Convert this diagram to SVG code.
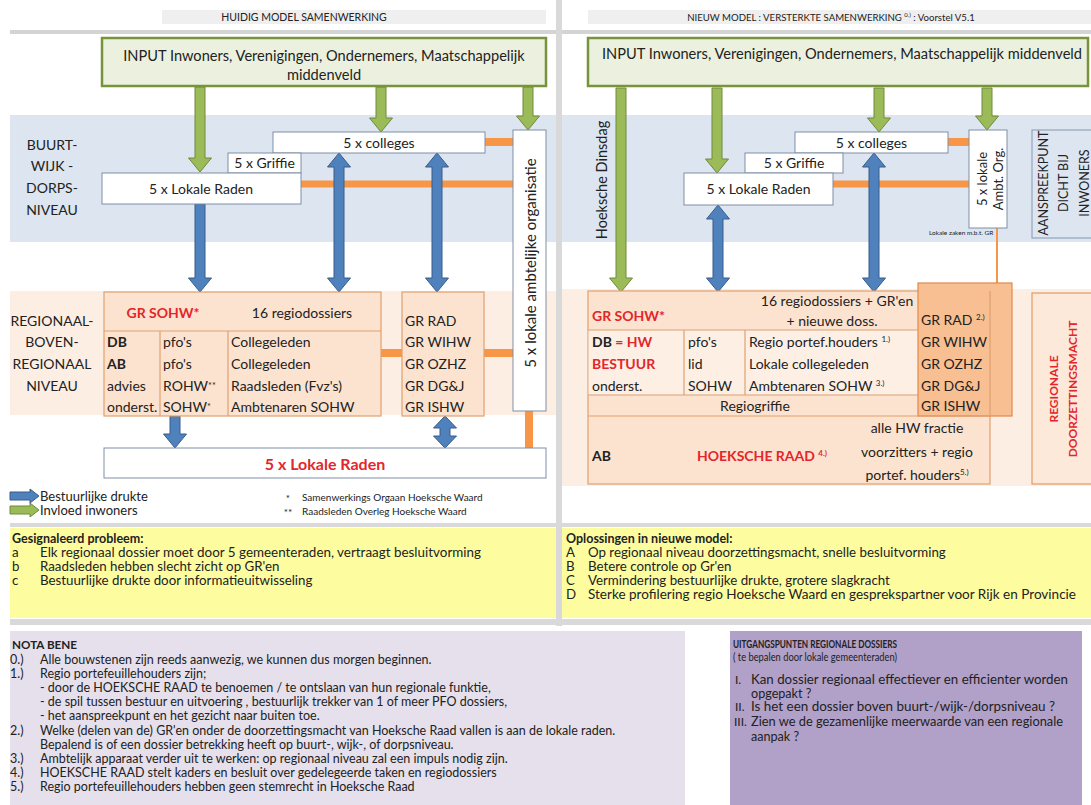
<svg xmlns="http://www.w3.org/2000/svg" width="1091" height="805" viewBox="0 0 1091 805">
<style>
text{font-family:Lato,"Open Sans","DejaVu Sans",sans-serif;fill:#222}
.f14{font-size:14px}.f13{font-size:13px}.f12{font-size:12.5px}.fy{font-size:13.3px}.fp{font-size:12.6px}.f10{font-size:10px}
.b{font-weight:bold}.red{fill:#e3262b}
.m{text-anchor:middle}
.rot{text-anchor:middle;dominant-baseline:central}
.wb{fill:#fff;stroke:#7f8fa6;stroke-width:1}
.pb{fill:#fce3cf;stroke:#e0a070;stroke-width:1.2}
.ln{stroke:#e0a070;stroke-width:1.2}
.or{fill:#f79646}
.ga{fill:#9bbb59;stroke:#71893f;stroke-width:1}
.ba{fill:#4f81bd;stroke:#385d8a;stroke-width:1}
.sup{font-size:8px}
</style>
<rect width="1091" height="805" fill="#fff"/>
<g id="background">
<rect x="162" y="10" width="384" height="14" fill="#efefef"/>
<rect x="588" y="10" width="503" height="14" fill="#efefef"/>
<rect x="10" y="30" width="546" height="4" fill="#d4d4d4"/>
<rect x="562" y="30" width="529" height="4" fill="#d4d4d4"/>
<rect x="10" y="115" width="546" height="127" fill="#dce5f0"/>
<rect x="562" y="115" width="529" height="127" fill="#dce5f0"/>
<rect x="10" y="291" width="546" height="124" fill="#fdeee4"/>
<rect x="562" y="289" width="529" height="197" fill="#fdeee4"/>
<rect x="10" y="523" width="546" height="4" fill="#d9d9d9"/>
<rect x="562" y="523" width="529" height="4" fill="#d9d9d9"/>
<rect x="10" y="528" width="546" height="90" fill="#fdfd9f"/>
<rect x="562" y="528" width="529" height="90" fill="#fdfd9f"/>
<rect x="10" y="619" width="1081" height="6" fill="#d9d9d9"/>
<rect x="556" y="0" width="6" height="626" fill="#d9d9d9"/>
<rect x="10" y="631" width="675" height="174" fill="#e5e0ec"/>
<rect x="730" y="631" width="352" height="174" fill="#b1a0c7"/>
</g>
<g id="headers">
<text x="304" y="21" class="m" font-size="10.5" fill="#404040">HUIDIG MODEL SAMENWERKING</text>
<text x="831" y="21" class="m" font-size="9.6">NIEUW MODEL : VERSTERKTE SAMENWERKING <tspan font-size="6" dy="-4">0.)</tspan><tspan dy="4"> : Voorstel V5.1</tspan></text>
</g>
<g id="levels">
<text x="52" y="150" class="f14 m">BUURT-</text>
<text x="52" y="171" class="f14 m">WIJK -</text>
<text x="52" y="193" class="f14 m">DORPS-</text>
<text x="52" y="215" class="f14 m">NIVEAU</text>
<text x="52" y="326" class="f14 m">REGIONAAL-</text>
<text x="52" y="347" class="f14 m">BOVEN-</text>
<text x="52" y="369" class="f14 m">REGIONAAL</text>
<text x="52" y="391" class="f14 m">NIVEAU</text>
</g>
<g id="connectors">
<rect class="or" x="485" y="138" width="28" height="8"/>
<rect class="or" x="301" y="180.5" width="212" height="7"/>
<rect class="or" x="381" y="349" width="21" height="8"/>
<rect class="or" x="484" y="349" width="29" height="8"/>
<rect class="or" x="525" y="410" width="8" height="38"/>
<rect class="or" x="948" y="138" width="21" height="8"/>
<rect class="or" x="833" y="180.5" width="136" height="7"/>
<line x1="997" y1="228" x2="997" y2="284" stroke="#f79646" stroke-width="2"/>
<polygon class="ga" points="195,87 205,87 205,158 211.5,158 200,172 188.5,158 195,158"/>
<polygon class="ga" points="376,87 386,87 386,118 392.5,118 381,132 369.5,118 376,118"/>
<polygon class="ga" points="523,87 533,87 533,116 539.5,116 528,130 516.5,116 523,116"/>
<polygon class="ga" points="616,88 626,88 626,278 632.5,278 621,292 609.5,278 616,278"/>
<polygon class="ga" points="712,88 722,88 722,159 728.5,159 717,173 705.5,159 712,159"/>
<polygon class="ga" points="874,88 884,88 884,118 890.5,118 879,132 867.5,118 874,118"/>
<polygon class="ga" points="982,88 992,88 992,116 998.5,116 987,130 975.5,116 982,116"/>
<polygon class="ba" points="195,204 205,204 205,278 211.5,278 200,292 188.5,278 195,278"/>
<polygon class="ba" points="339,153 350.5,167 344,167 344,278 350.5,278 339,292 327.5,278 334,278 334,167 327.5,167"/>
<polygon class="ba" points="437,153 448.5,167 442,167 442,278 448.5,278 437,292 425.5,278 432,278 432,167 425.5,167"/>
<polygon class="ba" points="170,416 180,416 180,434 186.5,434 175,448 163.5,434 170,434"/>
<polygon class="ba" points="445,416 456.5,428 450,428 450,436 456.5,436 445,448 433.5,436 440,436 440,428 433.5,428"/>
<polygon class="ba" points="718,205 729.5,219 723,219 723,278 729.5,278 718,292 706.5,278 713,278 713,219 706.5,219"/>
<polygon class="ba" points="874,153 885.5,167 879,167 879,278 885.5,278 874,292 862.5,278 869,278 869,167 862.5,167"/>
</g>
<g id="input-left">
<rect x="102" y="38" width="444" height="48" fill="#ebf1de" stroke="#77933c" stroke-width="2.5"/>
<text x="324" y="61" class="m" font-size="14.6">INPUT Inwoners, Verenigingen, Ondernemers, Maatschappelijk</text>
<text x="324" y="80" class="m" font-size="14.6">middenveld</text>
</g>
<g id="colleges-left"><rect class="wb" x="273" y="132" width="212" height="21"/><text x="379" y="148" class="f14 m">5 x colleges</text></g>
<g id="griffie-left"><rect class="wb" x="228" y="153" width="73" height="20"/><text x="264.5" y="168" class="f14 m">5 x Griffie</text></g>
<g id="raden-left"><rect class="wb" x="102" y="173" width="199" height="31"/><text x="201" y="193.5" class="f14 m">5 x Lokale Raden</text></g>
<g id="ambt-left"><rect class="wb" x="513" y="130" width="33" height="281"/><text class="rot" font-size="15" transform="translate(529.5,263) rotate(-90)">5 x lokale ambtelijke organisatie</text></g>
<g id="sohw-left">
<rect class="pb" x="104" y="292" width="277" height="124"/>
<line class="ln" x1="104" y1="331" x2="381" y2="331"/>
<line class="ln" x1="160" y1="331" x2="160" y2="416"/>
<line class="ln" x1="228" y1="331" x2="228" y2="416"/>
<text x="163" y="318" class="f14 m b red">GR SOHW*</text>
<text x="302" y="318" class="f14 m">16 regiodossiers</text>
<text x="107" y="347" class="f14 b">DB</text>
<text x="107" y="369" class="f14 b">AB</text>
<text x="107" y="391" class="f14">advies</text>
<text x="107" y="412" class="f14">onderst.</text>
<text x="163" y="347" class="f14">pfo's</text>
<text x="163" y="369" class="f14">pfo's</text>
<text x="163" y="391" class="f14">ROHW<tspan font-size="9" dy="-2">**</tspan></text>
<text x="163" y="412" class="f14">SOHW<tspan font-size="9" dy="-2">*</tspan></text>
<text x="231" y="347" class="f14">Collegeleden</text>
<text x="231" y="369" class="f14">Collegeleden</text>
<text x="231" y="391" class="f14">Raadsleden (Fvz's)</text>
<text x="231" y="412" class="f14">Ambtenaren SOHW</text>
</g>
<g id="gr-left">
<rect class="pb" x="402" y="292" width="82" height="124"/>
<text x="405" y="326" class="f14">GR RAD</text>
<text x="405" y="347" class="f14">GR WIHW</text>
<text x="405" y="369" class="f14">GR OZHZ</text>
<text x="405" y="391" class="f14">GR DG&amp;J</text>
<text x="405" y="412" class="f14">GR ISHW</text>
</g>
<g id="raden-bottom"><rect class="wb" x="104" y="448" width="442" height="30"/><text x="325" y="469.5" class="m b red" font-size="16">5 x Lokale Raden</text></g>
<g id="legend">
<polygon class="ba" points="10,492 30,492 30,489 39,496 30,503 30,500 10,500"/>
<polygon class="ga" points="10,506 30,506 30,503 39,510 30,517 30,514 10,514"/>
<text x="40" y="501" class="f13">Bestuurlijke drukte</text>
<text x="40" y="515" class="f13">Invloed inwoners</text>
<text x="288" y="502" class="f10 m">*</text>
<text x="288" y="516" class="f10 m">**</text>
<text x="302" y="501" class="f10">Samenwerkings Orgaan Hoeksche Waard</text>
<text x="302" y="515" class="f10">Raadsleden Overleg Hoeksche Waard</text>
</g>
<g id="problem">
<text x="12" y="543" class="f12 b">Gesignaleerd probleem:</text>
<text x="12" y="557" class="fy">a</text><text x="40" y="557" class="fy" textLength="441" lengthAdjust="spacingAndGlyphs">Elk regionaal dossier moet door 5 gemeenteraden, vertraagt besluitvorming</text>
<text x="12" y="571" class="fy">b</text><text x="40" y="571" class="fy">Raadsleden hebben slecht zicht op GR'en</text>
<text x="12" y="585" class="fy">c</text><text x="40" y="585" class="fy">Bestuurlijke drukte door informatieuitwisseling</text>
</g>
<g id="input-right">
<rect x="588" y="38" width="500" height="48" fill="#ebf1de" stroke="#77933c" stroke-width="2.5"/>
<text x="602" y="59" font-size="14.6" textLength="480" lengthAdjust="spacingAndGlyphs">INPUT Inwoners, Verenigingen, Ondernemers, Maatschappelijk middenveld</text>
</g>
<g id="dinsdag"><text class="rot" font-size="14.5" transform="translate(601,180) rotate(-90)">Hoeksche Dinsdag</text></g>
<g id="colleges-right"><rect class="wb" x="795" y="132" width="153" height="21"/><text x="871.5" y="148" class="f14 m">5 x colleges</text></g>
<g id="griffie-right"><rect class="wb" x="745" y="153" width="98" height="20"/><text x="794" y="168" class="f14 m">5 x Griffie</text></g>
<g id="raden-right"><rect class="wb" x="684" y="173" width="149" height="32"/><text x="758.5" y="194" class="f14 m">5 x Lokale Raden</text></g>
<g id="ambt-right">
<rect class="wb" x="969" y="130" width="38" height="98"/>
<text class="rot" font-size="13" transform="translate(982,179) rotate(-90)">5 x lokale</text>
<text class="rot" font-size="13" transform="translate(998,179) rotate(-90)">Ambt. Org.</text>
<text x="929" y="235" font-size="6.5">Lokale zaken m.b.t.  GR</text>
</g>
<g id="aanspreekpunt">
<rect x="1032" y="130" width="70" height="108" fill="#dce5f0" stroke="#8397b4" stroke-width="1"/>
<text class="rot" font-size="12.5" transform="translate(1043,183) rotate(-90)">AANSPREEKPUNT</text>
<text class="rot" font-size="12.5" transform="translate(1063,183) rotate(-90)">DICHT BIJ</text>
<text class="rot" font-size="12.5" transform="translate(1084,183) rotate(-90)">INWONERS</text>
</g>
<g id="sohw-right">
<rect class="pb" x="588" y="291" width="402" height="193" fill="#fce1cb"/>
<rect x="588.6" y="330" width="329.4" height="65" fill="#fdefe4"/>
<rect x="918" y="283" width="94" height="133" fill="#f8bf92" stroke="#e08a4a" stroke-width="1.2"/>
<line class="ln" x1="990" y1="291" x2="990" y2="416"/>
<line class="ln" x1="588" y1="330" x2="918" y2="330"/>
<line class="ln" x1="588" y1="395" x2="918" y2="395"/>
<line class="ln" x1="588" y1="416" x2="990" y2="416"/>
<line class="ln" x1="684" y1="330" x2="684" y2="395"/>
<line class="ln" x1="745" y1="330" x2="745" y2="395"/>
<text x="592" y="321" class="f14 b red">GR SOHW*</text>
<text x="837" y="306" class="f14 m">16 regiodossiers + GR'en</text>
<text x="832" y="326" class="f14 m">+ nieuwe doss.</text>
<text x="592" y="347" class="f14 b">DB<tspan class="red"> = HW</tspan></text>
<text x="592" y="369" class="f14 b red">BESTUUR</text>
<text x="592" y="391" class="f14">onderst.</text>
<text x="688" y="347" class="f14">pfo's</text>
<text x="688" y="369" class="f14">lid</text>
<text x="688" y="391" class="f14">SOHW</text>
<text x="749" y="347" class="f14">Regio portef.houders <tspan class="sup" dy="-5">1.)</tspan></text>
<text x="749" y="369" class="f14">Lokale collegeleden</text>
<text x="749" y="391" class="f14">Ambtenaren SOHW <tspan class="sup" dy="-5">3.)</tspan></text>
<text x="755" y="411" class="f14 m">Regiogriffie</text>
<text x="921" y="325" class="f14">GR RAD <tspan class="sup" dy="-5">2.)</tspan></text>
<text x="921" y="347" class="f14">GR WIHW</text>
<text x="921" y="369" class="f14">GR OZHZ</text>
<text x="921" y="391" class="f14">GR DG&amp;J</text>
<text x="921" y="411" class="f14">GR ISHW</text>
<text x="592" y="461" class="f14 b">AB</text>
<text x="762" y="461" class="f14 m b red">HOEKSCHE RAAD <tspan class="sup" dy="-5">4.)</tspan></text>
<text x="917" y="433" class="f14 m">alle HW fractie</text>
<text x="917" y="457" class="f14 m">voorzitters + regio</text>
<text x="917" y="480" class="f14 m">portef. houders<tspan class="sup" dy="-5">5.)</tspan></text>
</g>
<g id="doorzettingsmacht">
<rect x="1032" y="293" width="70" height="191" fill="#fde9d9" stroke="#e59a5f" stroke-width="1.2"/>
<text class="rot b red" font-size="12" transform="translate(1053,389) rotate(-90)">REGIONALE</text>
<text class="rot b red" font-size="12" transform="translate(1072,389) rotate(-90)">DOORZETTINGSMACHT</text>
</g>
<g id="solutions">
<text x="566" y="543" class="f12 b">Oplossingen in nieuwe model:</text>
<text x="566" y="557" class="fy">A</text><text x="588" y="557" class="fy">Op regionaal niveau doorzettingsmacht, snelle besluitvorming</text>
<text x="566" y="571" class="fy">B</text><text x="588" y="571" class="fy">Betere controle op Gr'en</text>
<text x="566" y="585" class="fy">C</text><text x="588" y="585" class="fy">Vermindering bestuurlijke drukte, grotere slagkracht</text>
<text x="566" y="599" class="fy">D</text><text x="588" y="599" class="fy" textLength="488" lengthAdjust="spacingAndGlyphs">Sterke profilering regio Hoeksche Waard en gesprekspartner voor Rijk en Provincie</text>
</g>
<g id="nota-bene">
<text x="12" y="649" class="b" font-size="12" textLength="65" lengthAdjust="spacingAndGlyphs">NOTA BENE</text>
<text x="10" y="664" class="f12">0.)</text><text x="40" y="664" class="f12">Alle bouwstenen zijn reeds aanwezig, we kunnen dus morgen beginnen.</text>
<text x="10" y="678" class="f12">1.)</text><text x="40" y="678" class="f12">Regio portefeuillehouders zijn;</text>
<text x="40" y="692" class="f12">- door de HOEKSCHE RAAD te benoemen / te ontslaan van hun regionale funktie,</text>
<text x="40" y="706" class="f12">- de spil tussen bestuur en uitvoering , bestuurlijk trekker van 1 of meer PFO dossiers,</text>
<text x="40" y="720" class="f12">- het aanspreekpunt en het gezicht naar buiten toe.</text>
<text x="10" y="735" class="f12">2.)</text><text x="40" y="735" class="f12">Welke (delen van de) GR'en onder de doorzettingsmacht van Hoeksche Raad vallen is aan de lokale raden.</text>
<text x="40" y="749" class="f12">Bepalend is of een dossier betrekking heeft op buurt-, wijk-, of dorpsniveau.</text>
<text x="10" y="763" class="f12">3.)</text><text x="40" y="763" class="f12">Ambtelijk apparaat verder uit te werken: op regionaal niveau zal een impuls nodig zijn.</text>
<text x="10" y="777" class="f12">4.)</text><text x="40" y="777" class="f12">HOEKSCHE RAAD stelt kaders en besluit over gedelegeerde taken en regiodossiers</text>
<text x="10" y="791" class="f12">5.)</text><text x="40" y="791" class="f12">Regio portefeuillehouders hebben geen stemrecht in Hoeksche Raad</text>
</g>
<g id="uitgangspunten">
<text x="733" y="648" class="b" font-size="11.5" textLength="164" lengthAdjust="spacingAndGlyphs">UITGANGSPUNTEN REGIONALE DOSSIERS</text>
<text x="733" y="661" font-size="11.5" textLength="164" lengthAdjust="spacingAndGlyphs">( te bepalen door lokale gemeenteraden)</text>
<text x="735" y="684" font-size="12">I.</text><text x="751" y="684" class="fp" textLength="317" lengthAdjust="spacingAndGlyphs">Kan dossier regionaal effectiever en efficienter worden</text>
<text x="751" y="698" class="fp">opgepakt ?</text>
<text x="735" y="711" font-size="12">II.</text><text x="751" y="711" class="fp" textLength="304" lengthAdjust="spacingAndGlyphs">Is het een dossier boven buurt-/wijk-/dorpsniveau ?</text>
<text x="734" y="726" font-size="12">III.</text><text x="751" y="726" class="fp" textLength="312" lengthAdjust="spacingAndGlyphs">Zien we de gezamenlijke meerwaarde van een regionale</text>
<text x="751" y="741" class="fp">aanpak ?</text>
</g>
</svg>
